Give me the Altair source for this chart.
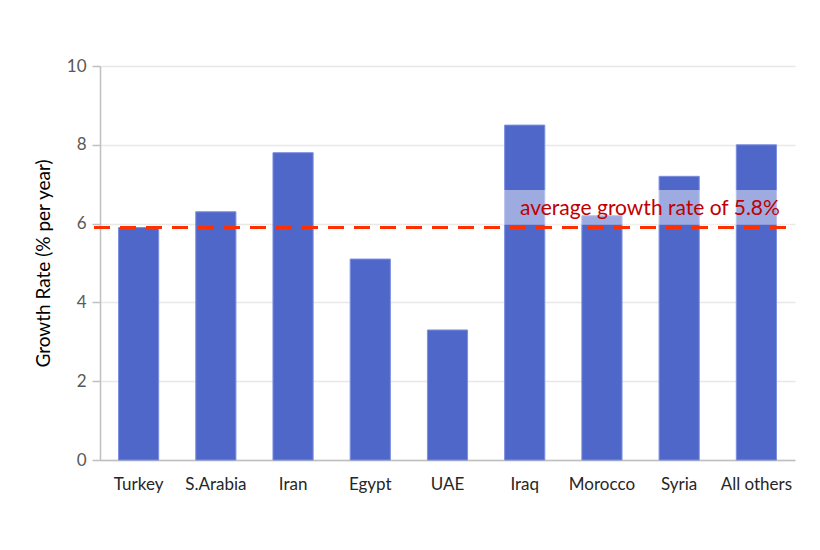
import altair as alt
import pandas as pd

countries = ["Turkey", "S.Arabia", "Iran", "Egypt", "UAE", "Iraq", "Morocco", "Syria", "All others"]
growth = [5.9, 6.3, 7.8, 5.1, 3.3, 8.5, 6.2, 7.2, 8.0]
average_line = [5.9]
note_text = ["average growth rate of 5.8%"]
note_box = [(6.85, 5.97)]

df = pd.DataFrame({"country": countries, "growth": growth})
avg_df = pd.DataFrame({"avg": average_line})
box_df = pd.DataFrame({"top": [note_box[0][0]], "bottom": [note_box[0][1]]})
text_df = pd.DataFrame({"label": note_text, "y": [6.38]})

FONT = "Lato"

x = alt.X("country:N", sort=countries, title=None,
          scale=alt.Scale(paddingInner=0.48, paddingOuter=0.24),
          axis=alt.Axis(labelAngle=0, ticks=False, labelPadding=16, labelFontSize=17,
                        labelColor="#262626", domainColor="#bfbfbf", domainWidth=1.5,
                        labelFont=FONT))
yscale = alt.Scale(domain=[0, 10])

bars = alt.Chart(df).mark_bar(color="#4f67c8", stroke="#7b8fe0", strokeWidth=1).encode(
    x=x,
    y=alt.Y("growth:Q", scale=yscale, title="Growth Rate (% per year)",
            axis=alt.Axis(values=[0, 2, 4, 6, 8, 10], tickSize=8, tickColor="#bfbfbf",
                          domainColor="#bfbfbf", domainWidth=1.5, tickWidth=1.5,
                          gridColor="#e8e8e8", gridWidth=1.5, labelFontSize=17,
                          labelColor="#595959", labelPadding=6, titleFontSize=19,
                          titleFontWeight="normal", titleColor="#000000", titlePadding=13,
                          labelFont=FONT, titleFont=FONT))
)

box = alt.Chart(box_df).mark_rect(color="white", opacity=0.45).encode(
    x=alt.value(400), x2=alt.value(690),
    y=alt.Y("top:Q", scale=yscale), y2="bottom:Q"
)

avg = alt.Chart(avg_df).mark_rule(color="#ff3000", strokeWidth=3, strokeDash=[16, 10]).encode(
    y=alt.Y("avg:Q", scale=yscale), x=alt.value(-6), x2=alt.value(695)
)

text = alt.Chart(text_df).mark_text(align="left", baseline="middle", color="#c00000",
                                    fontSize=21, font=FONT).encode(
    x=alt.value(420), y=alt.Y("y:Q", scale=yscale), text="label:N"
)

chart = alt.layer(bars, box, avg, text).properties(
    width=695, height=394,
    autosize=alt.AutoSizeParams(type="none"),
    padding={"left": 92, "top": 58, "right": 10, "bottom": 70},
    background="white"
).configure_view(stroke=None)

chart.save("out.html", embed_options={"renderer": "svg", "actions": False})
